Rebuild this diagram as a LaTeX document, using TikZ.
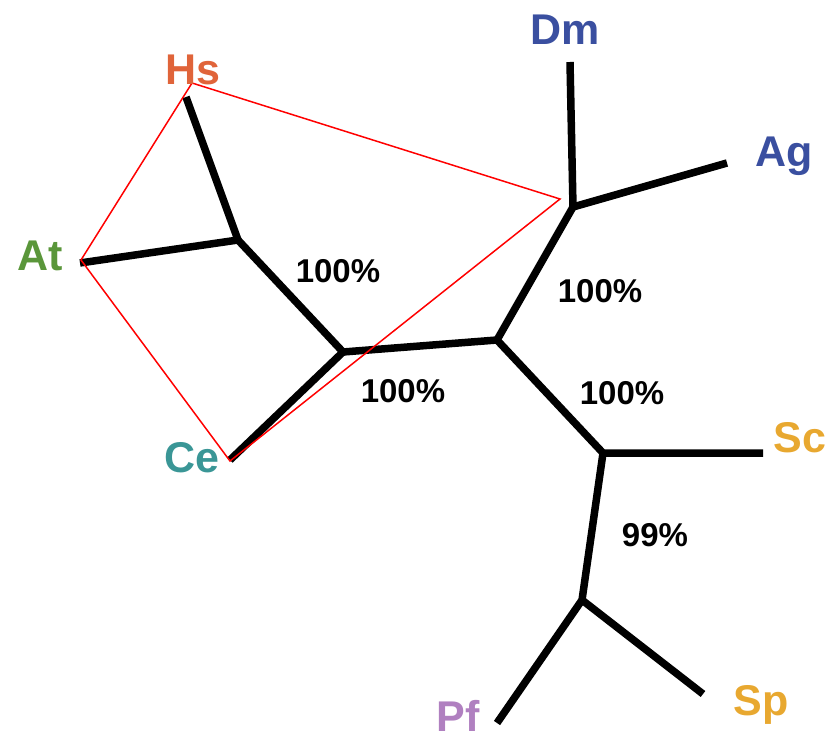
\documentclass[tikz,border=0pt]{standalone}
\usepackage{fontspec}
\setmainfont{Liberation Sans}
\definecolor{cHs}{HTML}{E0643A}
\definecolor{cAt}{HTML}{5A963A}
\definecolor{cCe}{HTML}{3A9696}
\definecolor{cBlue}{HTML}{3A4FA0}
\definecolor{cGold}{HTML}{E8A830}
\definecolor{cPf}{HTML}{B080C0}
\begin{document}
\begin{tikzpicture}[x=1pt,y=-1pt,
  branch/.style={line width=7.5pt,line join=round,line cap=butt},
  redline/.style={red,line width=1.5pt,line join=miter},
  taxon/.style={font=\bfseries\fontsize{43}{43}\selectfont,anchor=base,inner sep=0pt},
  support/.style={font=\bfseries\fontsize{33}{33}\selectfont,anchor=base,inner sep=0pt}]
\useasboundingbox (0,0) rectangle (836,741);
% tips
\coordinate (hs) at (186,97);
\coordinate (at) at (80,263);
\coordinate (ce) at (230,460);
\coordinate (dm) at (570,62);
\coordinate (ag) at (727,163);
\coordinate (sc) at (763,453);
\coordinate (pf) at (497,723);
\coordinate (sp) at (703,694);
% internal nodes
\coordinate (n1) at (238,240);
\coordinate (n2) at (343,352);
\coordinate (n3) at (497,340);
\coordinate (n4) at (573,207);
\coordinate (n5) at (603,453);
\coordinate (n6) at (582,600);
% branches
\draw[branch] (hs) -- (n1) -- (at);
\draw[branch] (n1) -- (n2) -- (ce);
\draw[branch] (n2) -- (n3) -- (n4) -- (dm);
\draw[branch] (n4) -- (ag);
\draw[branch] (n3) -- (n5) -- (sc);
\draw[branch] (n5) -- (n6) -- (pf);
\draw[branch] (n6) -- (sp);
% red polygon
\coordinate (rHs) at (192,83);
\coordinate (rAt) at (81,260);
\coordinate (rCe) at (230,461);
\coordinate (rD) at (560,199);
\draw[redline] (rHs) -- (rAt) -- (rCe) -- (rD) -- cycle;
% taxon labels
\node[taxon,text=cHs] (lHs) at (193,85) {Hs};
\node[taxon,text=cAt] (lAt) at (40,270) {At};
\node[taxon,text=cCe] (lCe) at (192,472) {Ce};
\node[taxon,text=cBlue] (lDm) at (565,45) {Dm};
\node[taxon,text=cBlue] (lAg) at (784,167) {Ag};
\node[taxon,text=cGold] (lSc) at (800,452) {Sc};
\node[taxon,text=cGold] (lSp) at (761,715) {Sp};
\node[taxon,text=cPf] (lPf) at (458,731) {Pf};
% support values
\node[support] (s1) at (338,282) {100\%};
\node[support] (s2) at (403,402) {100\%};
\node[support] (s3) at (600,302) {100\%};
\node[support] (s4) at (622,404) {100\%};
\node[support] (s5) at (655,546) {99\%};
\end{tikzpicture}
\end{document}
